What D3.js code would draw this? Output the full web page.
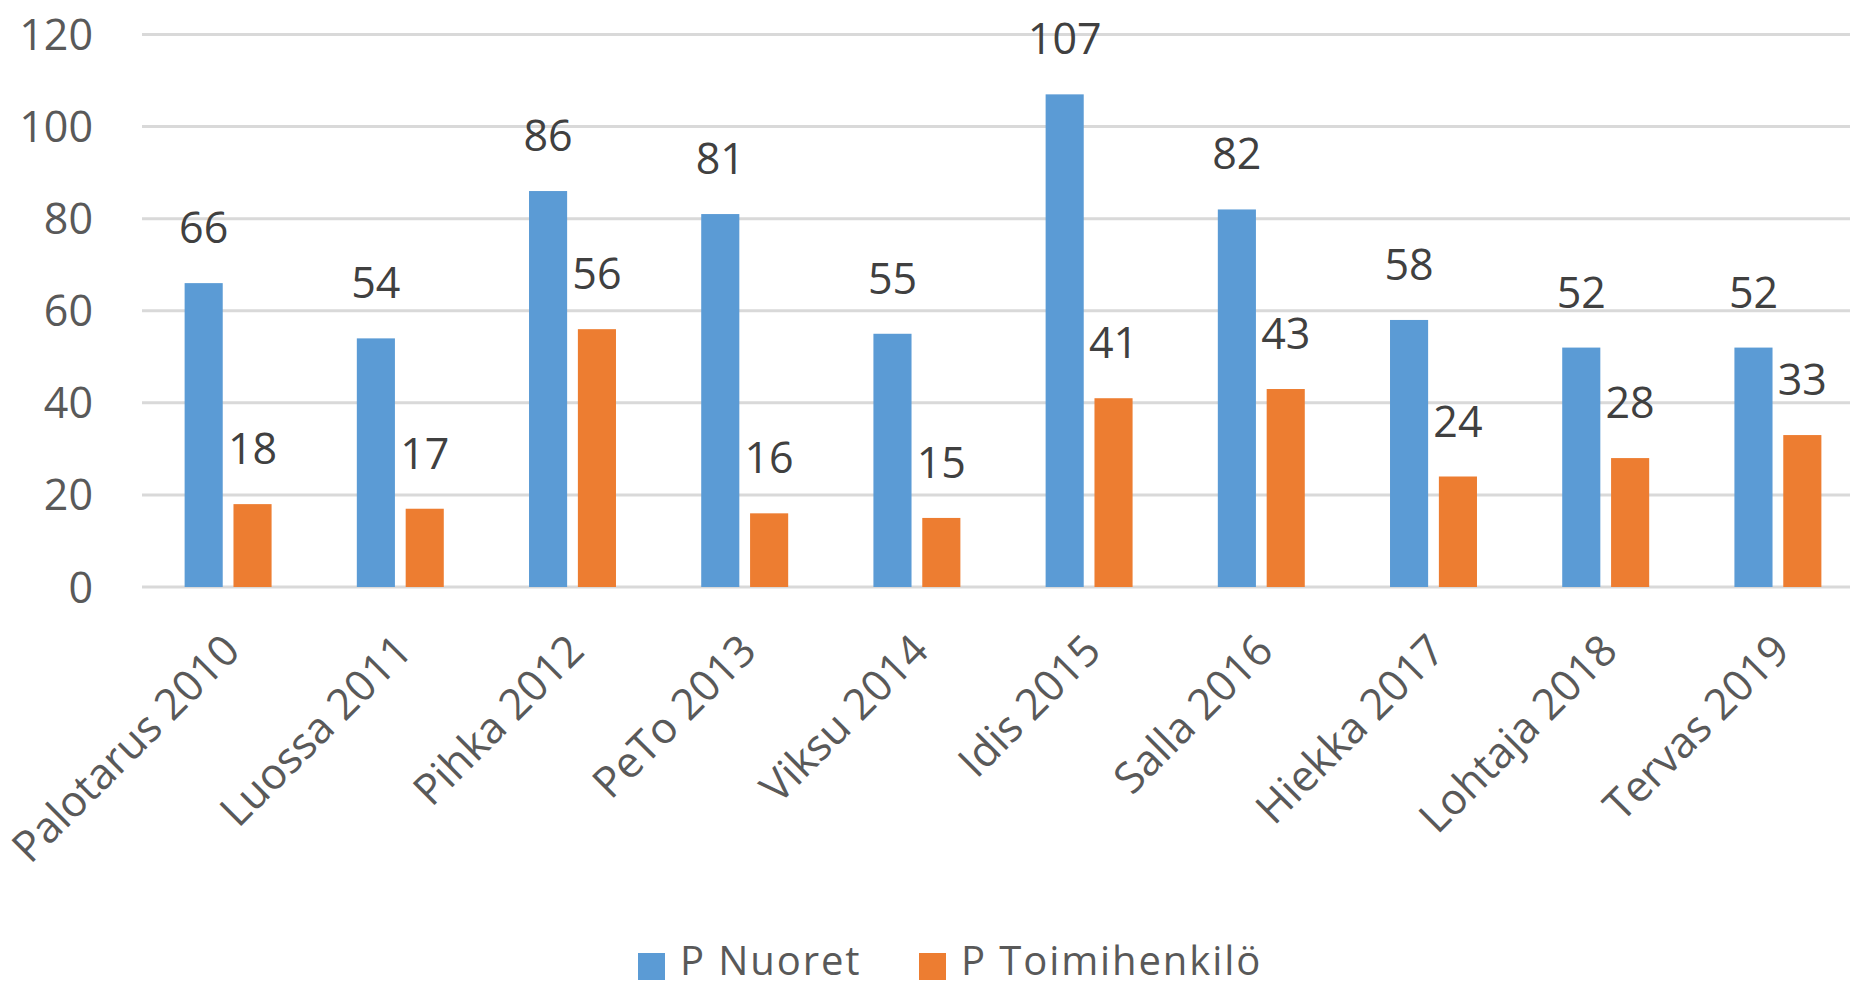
<!DOCTYPE html>
<html>
<head>
<meta charset="utf-8">
<script src="https://cdn.jsdelivr.net/npm/d3@7"></script>
<style>
  html, body { margin: 0; padding: 0; background: #fff; }
  svg { display: block; }
  text { font-family: "Open Sans", "Noto Sans", sans-serif; }
</style>
</head>
<body>
<svg id="chart" width="1850" height="985"></svg>
<script>
const categories = ["Palotarus 2010", "Luossa 2011", "Pihka 2012", "PeTo 2013", "Viksu 2014",
                    "Idis 2015", "Salla 2016", "Hiekka 2017", "Lohtaja 2018", "Tervas 2019"];
const seriesNames = ["P Nuoret", "P Toimihenkilö"];
const nuoret = [66, 54, 86, 81, 55, 107, 82, 58, 52, 52];
const toimihenkilo = [18, 17, 56, 16, 15, 41, 43, 24, 28, 33];
const yTicks = [0, 20, 40, 60, 80, 100, 120];
const colors = ["#5B9BD5", "#ED7D31"];

const seriesValues = [nuoret, toimihenkilo];
const data = categories.map((c, i) => ({
  cat: c,
  vals: seriesNames.map((s, j) => ({ series: s, idx: j, value: seriesValues[j][i] }))
}));

const svg = d3.select("#chart");
const plotLeft = 142, plotRight = 1864, plotTop = 34.5, plotBottom = 587;

const y = d3.scaleLinear().domain([0, 120]).range([plotBottom, plotTop]);
const x0 = d3.scaleBand().domain(categories).range([plotLeft, plotRight])
  .paddingInner(0.495).paddingOuter(0.2475);
const x1 = d3.scaleBand().domain(seriesNames).range([0, x0.bandwidth()])
  .paddingInner(0.22);

// gridlines
svg.append("g").selectAll("line").data(yTicks).join("line")
  .attr("x1", plotLeft).attr("x2", 1850)
  .attr("y1", d => y(d)).attr("y2", d => y(d))
  .attr("stroke", "#D9D9D9").attr("stroke-width", 3);

// y axis labels
const yAxis = d3.axisLeft(y).tickValues(yTicks).tickSize(0).tickPadding(0);
const ya = svg.append("g").attr("transform", `translate(93,0)`).call(yAxis);
ya.select(".domain").remove();
ya.selectAll("text")
  .attr("font-size", 43).attr("fill", "#595959")
  .attr("font-family", "'Open Sans', 'Noto Sans', sans-serif")
  .attr("dy", "0.35em");

// bars
const groups = svg.append("g").selectAll("g").data(data).join("g")
  .attr("transform", d => `translate(${x0(d.cat)},0)`);
groups.selectAll("rect").data(d => d.vals).join("rect")
  .attr("x", d => x1(d.series))
  .attr("width", x1.bandwidth())
  .attr("y", d => y(d.value))
  .attr("height", d => y(0) - y(d.value))
  .attr("fill", d => colors[d.idx]);

// data labels
groups.selectAll("text").data(d => d.vals).join("text")
  .attr("x", d => x1(d.series) + x1.bandwidth() / 2)
  .attr("y", d => y(d.value) - 40)
  .attr("text-anchor", "middle")
  .attr("font-size", 43).attr("fill", "#404040")
  .text(d => d.value);

// x axis labels
const xAxis = d3.axisBottom(x0).tickSize(0).tickPadding(0);
const xa = svg.append("g").attr("transform", `translate(0,${plotBottom})`).call(xAxis);
xa.select(".domain").remove();
xa.selectAll(".tick text")
  .attr("font-size", 43).attr("fill", "#595959")
  .attr("font-family", "'Open Sans', 'Noto Sans', sans-serif")
  .attr("text-anchor", "end")
  .attr("dy", 0)
  .attr("x", 0).attr("y", 0)
  .attr("transform", "translate(14,66) rotate(-45)");

// legend
const legend = svg.append("g");
const legendX = [638, 919];
seriesNames.forEach((s, i) => {
  const g = legend.append("g").attr("transform", `translate(${legendX[i]},0)`);
  g.append("rect").attr("x", 0).attr("y", 953).attr("width", 27).attr("height", 27)
    .attr("fill", colors[i]);
  g.append("text").attr("x", 42).attr("y", 975)
    .attr("font-size", 40).attr("fill", "#595959")
    .attr("letter-spacing", 1.9)
    .text(s);
});
</script>
</body>
</html>
